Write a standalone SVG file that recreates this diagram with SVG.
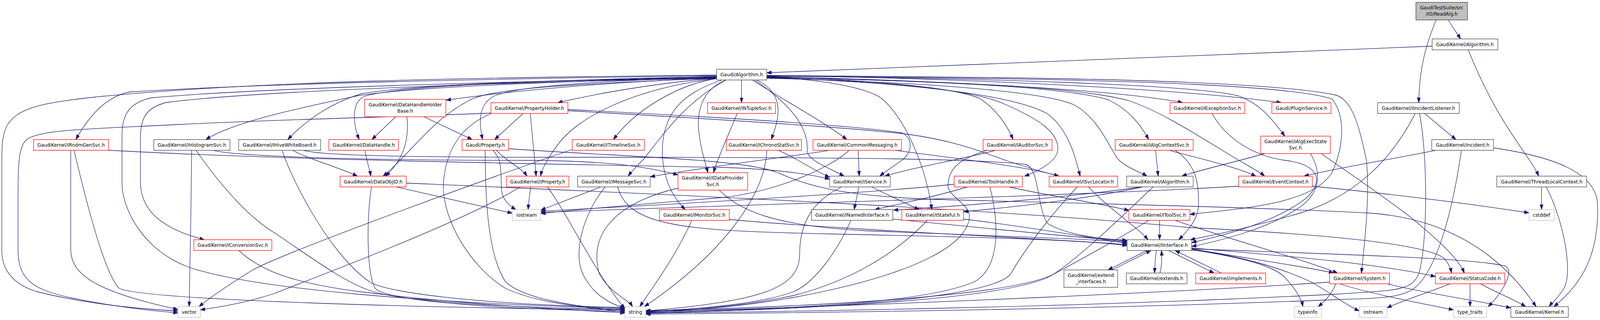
<svg xmlns="http://www.w3.org/2000/svg" width="4432" height="818" viewBox="0 0 4432 818">
<defs>
<marker id="ah" markerUnits="userSpaceOnUse" markerWidth="14" markerHeight="11" refX="13" refY="5" orient="auto"><path d="M0,0.5 L13,5 L0,9.5 z" fill="#191970" stroke="#191970" stroke-width="1"/></marker>
<style>
.e{fill:none;stroke:#191970;stroke-width:1.3;marker-end:url(#ah)}
.n rect{fill:#ffffff;stroke-width:1.3}
.k rect{stroke:#404040}
.r rect{stroke:#ff0000}
.s rect{stroke:#bfbfbf}
.root rect{fill:#bfbfbf;stroke:#404040}
text{font-family:"DejaVu Sans","Liberation Sans",sans-serif;font-size:13px;text-anchor:middle;fill:#000000}
</style>
</defs>
<rect x="0" y="0" width="4432" height="818" fill="#ffffff"/>
<g id="diagram" transform="scale(0.9242,1)">
<g id="connectors">
<path class="e" d="M4012,51 C4022,68 4036,85 4046,99.5"/>
<path class="e" d="M3978,51 C3952,110 3931,170 3930,262.5"/>
<path class="e" d="M3967,118 C3500,134 2600,170 2124,186"/>
<path class="e" d="M4067,127.5 C4150,320 4240,400 4262,450.3"/>
<path class="e" d="M3946,290 L4033,356.7"/>
<path class="e" d="M3920,290 C3860,400 3760,500 3600,545 C3450,585 3350,603 3297,612.8"/>
<path class="e" d="M3932,290 C3955,400 3955,620 3930,700 C3910,745 3860,742 3700,752 C3000,785 2200,797 1789,800"/>
<path class="e" d="M3978,384.2 C3850,408 3700,430 3612,450.3"/>
<path class="e" d="M4137,378 C4300,400 4420,440 4425,520 C4430,640 4390,720 4304,783.8"/>
<path class="e" d="M4048,384.2 C4030,500 3990,680 3920,735 C3880,765 3800,762 3700,766 C3000,792 2200,800 1789,803"/>
<path class="e" d="M4270,477.8 L4270,535.8"/>
<path class="e" d="M4283,477.8 C4330,560 4360,700 4330,740 C4315,762 4298,775 4291,783.8"/>
<path class="e" d="M1985,193 C1500,200 800,210 360,235 C300,245 250,290 210,356.7"/>
<path class="e" d="M1985,196 C1600,208 1150,220 990,245 C850,272 650,310 570,356.7"/>
<path class="e" d="M1985,195 C1550,205 1150,215 1000,240 C920,262 850,305 797,356.7"/>
<path class="e" d="M1985,197 C1500,205 1100,220 1010,246 C975,260 975,310 995,356.7"/>
<path class="e" d="M1985,199 C1700,210 1450,228 1236,256"/>
<path class="e" d="M1985,198 C1700,205 1450,218 1375,243 C1325,262 1325,310 1337,356.7"/>
<path class="e" d="M1985,199 C1800,215 1650,240 1545,262.5"/>
<path class="e" d="M1985,201 C1880,215 1760,280 1699,356.7"/>
<path class="e" d="M2054,204.5 L2054,262.5"/>
<path class="e" d="M2096,204.5 C2175,240 2160,300 2136,356.7"/>
<path class="e" d="M2084,204.5 C2160,250 2280,310 2346,356.7"/>
<path class="e" d="M2124,195 C2400,205 2650,222 2716,253 C2760,280 2790,320 2806,356.7"/>
<path class="e" d="M2124,197 C2600,207 2950,222 3070,255 C3130,282 3160,320 3182,356.7"/>
<path class="e" d="M2124,196 C2600,205 3100,230 3276,262.5"/>
<path class="e" d="M2124,193 C2700,200 3300,230 3549,262.5"/>
<path class="e" d="M2124,194 C2700,200 3300,215 3430,245 C3490,265 3520,300 3559,348"/>
<path class="e" d="M1985,200 C1400,210 700,233 460,262 C405,276 390,300 389,350 L389,470 C392,540 450,585 566,612.8"/>
<path class="e" d="M1985,192 C1300,198 700,208 264,248 C120,262 50,275 20,320 C6,345 5,370 5,420 L5,640 C5,700 50,730 100,745 C250,780 400,790 493,795"/>
<path class="e" d="M1985,199 C1400,208 720,225 420,250 C360,262 340,290 338,340 L338,470 C340,540 400,640 520,682 C700,740 1200,776 1731,788"/>
<path class="e" d="M1985,200 C1600,214 1380,225 1310,252 C1200,300 1140,390 1061,450.3"/>
<path class="e" d="M1985,200 C1750,228 1600,300 1545,370 C1520,400 1502,430 1497,450.3"/>
<path class="e" d="M2011,204.5 C1900,260 1840,340 1782,408 C1762,426 1748,440 1740,450.3"/>
<path class="e" d="M2011,204.5 C1955,225 1930,270 1935,330 C1940,380 1955,420 1961,441.5"/>
<path class="e" d="M2000,204.5 C1880,240 1830,300 1835,400 C1840,470 1870,510 1898,535.8"/>
<path class="e" d="M2090,204.5 C2180,260 2240,320 2236,384 C2234,410 2300,430 2338,450.3"/>
<path class="e" d="M2124,198 C2500,210 2700,232 2780,265 C2880,305 2935,340 2930,385 C2925,415 2870,440 2838,450.3"/>
<path class="e" d="M2124,199 C2500,210 2800,240 2900,290 C2960,330 2978,400 2992,450.3"/>
<path class="e" d="M2124,200 C2600,211 2900,236 2975,268 C3040,300 3070,370 3095,405 C3120,430 3160,440 3177,450.3"/>
<path class="e" d="M2124,197 C2700,210 3000,225 3125,257 C3220,285 3340,360 3432,410 C3460,425 3490,440 3503,450.3"/>
<path class="e" d="M2124,196 C2300,205 2420,228 2450,258 C2520,320 2570,450 2581,535.8"/>
<path class="e" d="M2124,194 C2900,200 3550,210 3690,253 C3730,300 3720,380 3690,440 C3640,520 3450,532 3296,548"/>
<path class="e" d="M2124,193 C2900,197 3500,205 3700,243 C3745,255 3765,320 3785,410 C3795,500 3780,620 3771,698"/>
<path class="e" d="M1096,298.5 L1030,356.7"/>
<path class="e" d="M1174,298.5 L1308,356.7"/>
<path class="e" d="M1127,298.5 C1135,360 1115,410 1068,450.3"/>
<path class="e" d="M1011,384.2 C1015,410 1024,432 1027,450.3"/>
<path class="e" d="M811,384.2 C850,405 945,430 990,450.3"/>
<path class="e" d="M782,384.2 C795,430 900,640 1023,720 C1060,745 1300,778 1731,786"/>
<path class="e" d="M839,384.2 C900,400 1200,402 1600,402 C2300,402 2700,405 2840,420 C2880,430 2870,520 2900,570 C2950,600 3050,612 3122,614"/>
<path class="e" d="M196,384.2 L196,640 C198,700 260,745 493,791"/>
<path class="e" d="M205,384.2 C240,520 290,700 330,737 C400,768 1200,787 1731,792"/>
<path class="e" d="M301,384 C800,410 1600,420 2000,428 C2150,432 2250,446 2298,458"/>
<path class="e" d="M531,384.2 C530,500 526,700 524,783.8"/>
<path class="e" d="M543,384.2 C600,460 680,550 760,595 C850,650 950,720 1023,742 C1100,770 1400,787 1731,790"/>
<path class="e" d="M590,384.2 C650,400 1000,410 1480,410 C1700,412 1800,428 1878,447"/>
<path class="e" d="M1585,382 C1400,440 800,640 700,690 C630,730 580,762 551,783.8"/>
<path class="e" d="M2155,384.2 C2200,400 2250,434 2298,453"/>
<path class="e" d="M2124,384.2 C2120,500 2000,650 1785,783.8"/>
<path class="e" d="M2298,384.2 C2220,397 2000,420 1801,452"/>
<path class="e" d="M2377,384.2 L2380,450.3"/>
<path class="e" d="M2352,384.2 C2300,430 2150,490 2000,505 C1800,520 1600,535 1498,546"/>
<path class="e" d="M2479,384.2 C2600,400 2850,425 2933,450.3"/>
<path class="e" d="M2758,384.2 C2650,410 2520,430 2451,450.3"/>
<path class="e" d="M2735,384.2 C2660,405 2626,430 2626,475 C2626,500 2680,520 2685,548 C2690,620 2550,700 2200,760 C2050,785 1900,795 1789,797"/>
<path class="e" d="M3201,384.2 L3208,450.3"/>
<path class="e" d="M3238,384.2 C3300,400 3420,425 3479,450.3"/>
<path class="e" d="M3255,384.2 C3315,420 3320,470 3320,520 C3320,560 3290,590 3265,612.8"/>
<path class="e" d="M3357,290 C3400,360 3480,400 3560,410 C3650,420 3670,460 3620,505 C3540,565 3400,600 3301,620"/>
<path class="e" d="M3503,392.5 C3420,415 3320,435 3274,450.3"/>
<path class="e" d="M3630,392.5 C3660,440 3660,490 3600,530 C3520,580 3400,612 3301,630"/>
<path class="e" d="M3660,392.5 C3700,420 3800,480 3900,550 C3980,610 4040,660 4056,698"/>
<path class="e" d="M1099,478 C1200,500 1350,530 1419,545"/>
<path class="e" d="M1029,478 C1015,560 1015,700 1040,738 C1080,772 1400,790 1731,796"/>
<path class="e" d="M1125,468 C1800,495 2700,530 3300,582 C3700,600 3950,625 4000,660 C4012,672 4018,686 4021,698"/>
<path class="e" d="M1470,478 C1467,500 1464,518 1463,535.8"/>
<path class="e" d="M1517,478 C1580,560 1650,700 1731,789"/>
<path class="e" d="M1440,478 C1300,560 900,700 760,750 C680,775 600,786 555,792"/>
<path class="e" d="M1375,384.2 C1400,410 1445,430 1460,450.3"/>
<path class="e" d="M1365,384.2 C1395,410 1385,450 1390,490 C1395,515 1415,528 1429,535.8"/>
<path class="e" d="M1344,384.2 C1344,500 1350,650 1400,720 C1450,765 1600,785 1731,794"/>
<path class="e" d="M1409,380 C1700,400 2050,405 2150,440 C2230,470 2300,500 2600,510 C3000,520 3500,530 3800,545 C4000,560 4150,640 4255,783.8"/>
<path class="e" d="M1449,290 L1370,356.7"/>
<path class="e" d="M1469,290 C1475,360 1482,410 1485,450.3"/>
<path class="e" d="M1360,289 C1150,298 800,304 500,318 C250,330 100,330 70,360 C52,380 50,420 50,500 L50,640 C50,720 100,742 200,762 C350,790 450,796 493,800"/>
<path class="e" d="M1362,290 C1280,320 1235,380 1228,470 C1225,560 1300,680 1400,737 C1500,780 1650,787 1731,798"/>
<path class="e" d="M1573,283 C1900,300 2350,325 2513,343 C2650,360 2730,392 2786,410 C2850,430 2900,442 2933,450.3"/>
<path class="e" d="M1573,280 C1900,295 2350,318 2500,340 C2532,356 2525,392 2498,410 C2475,425 2450,440 2437,450.3"/>
<path class="e" d="M1664,478 L1498,537"/>
<path class="e" d="M1676,478 C1620,540 1580,650 1620,710 C1650,760 1700,780 1731,787"/>
<path class="e" d="M1711,478 C1740,580 1900,590 2300,598 C2700,606 3000,612 3122,628"/>
<path class="e" d="M1878,481 C1700,520 1630,600 1660,700 C1690,750 1740,765 1752,783.8"/>
<path class="e" d="M1992,486 C2050,540 2150,578 2400,590 C2800,605 3000,610 3122,619"/>
<path class="e" d="M2042,290 C2020,340 1990,400 1976,441.5"/>
<path class="e" d="M1916,563.3 C1880,640 1820,720 1772,783.8"/>
<path class="e" d="M2020,561 C2300,585 2800,605 3122,625"/>
<path class="e" d="M2379,478 L2366,535.8"/>
<path class="e" d="M2414,478 L2546,535.8"/>
<path class="e" d="M2331,478 C2260,510 2215,560 2215,650 C2215,740 2100,770 1789,795"/>
<path class="e" d="M2679,478 C2600,500 2500,520 2423,535.8"/>
<path class="e" d="M2643,471 C2400,495 1800,525 1498,540"/>
<path class="e" d="M2742,478 C2765,560 2775,680 2700,720 C2550,780 2100,793 1789,796"/>
<path class="e" d="M2796,478 C2900,500 3050,520 3127,538"/>
<path class="e" d="M3015,478 C3080,540 3150,580 3180,612.8"/>
<path class="e" d="M2984,478 C2900,560 2830,650 2800,700 C2750,760 2300,792 1789,799"/>
<path class="e" d="M3159,478 C3000,500 2700,525 2475,537"/>
<path class="e" d="M3165,478 C3000,510 2800,530 2669,541"/>
<path class="e" d="M3194,478 C3100,560 3000,650 2920,700 C2800,760 2200,786 1789,794"/>
<path class="e" d="M3635,476 C3900,500 4100,525 4235,544"/>
<path class="e" d="M3431,476 C3000,500 2000,525 1498,543"/>
<path class="e" d="M3212,563.3 L3212,612.8"/>
<path class="e" d="M3182,563.3 C3100,610 3000,660 2900,710 C2750,770 2200,790 1789,801"/>
<path class="e" d="M3255,563.3 C3400,610 3600,660 3705,698"/>
<path class="e" d="M2473,560 C2700,580 2950,605 3122,616"/>
<path class="e" d="M2357,563.3 C2320,640 2260,720 2200,745 C2100,780 1900,792 1789,795"/>
<path class="e" d="M2669,560 C2850,580 3000,605 3122,622"/>
<path class="e" d="M2569,563.3 C2480,650 2350,720 2200,755 C2050,785 1900,793 1789,798"/>
<path class="e" d="M661,640.3 C720,690 800,722 1000,746 C1300,780 1550,790 1731,800"/>
<path class="e" d="M3177,640.3 L3069,690"/>
<path class="e" d="M3080,690 L3188,640.3"/>
<path class="e" d="M3203,640.3 C3200,660 3199,680 3198,698"/>
<path class="e" d="M3213,698 C3218,680 3219,660 3217,640.3"/>
<path class="e" d="M3237,640.3 L3363,698"/>
<path class="e" d="M3383,698 L3255,640.3"/>
<path class="e" d="M3301,636 C3450,660 3620,682 3694,698"/>
<path class="e" d="M3301,634 C3500,650 3800,670 3976,707"/>
<path class="e" d="M3301,638 C3450,660 3530,680 3560,710 C3590,740 3605,765 3609,783.8"/>
<path class="e" d="M3301,639 C3450,655 3560,690 3630,720 C3680,745 3720,775 3765,795"/>
<path class="e" d="M3301,636 C3700,650 4100,660 4172,681 C4195,695 4160,750 4122,783.8"/>
<path class="e" d="M3845,726 C3950,750 4100,770 4185,787"/>
<path class="e" d="M3683,721 C3400,740 2500,780 1789,797"/>
<path class="e" d="M3700,726 C3690,750 3670,770 3651,783.8"/>
<path class="e" d="M3712,726 C3800,752 3950,778 4026,792"/>
<path class="e" d="M4016,725.7 C3950,750 3880,770 3842,787"/>
<path class="e" d="M4072,725.7 L4072,783.8"/>
<path class="e" d="M4101,725.7 C4150,750 4200,768 4226,783.8"/>
</g>
<g id="n_readalg" class="n root"><rect x="3922" y="6" width="143" height="45"/><text x="3993.5" y="24">GaudiTestSuite/src</text><text x="3993.5" y="40.5">/IO/ReadAlg.h</text></g>
<g id="n_gk_algorithm" class="n k"><rect x="3967" y="99.5" width="182" height="28"/><text x="4058" y="118">GaudiKernel/Algorithm.h</text></g>
<g id="n_g_algorithm" class="n k"><rect x="1985" y="177" width="139" height="27.5"/><text x="2054.5" y="195.5">Gaudi/Algorithm.h</text></g>
<g id="n_dhhb" class="n r"><rect x="1010" y="254" width="225" height="44.5"/><text x="1122.5" y="272">GaudiKernel/DataHandleHolder</text><text x="1122.5" y="288.5">Base.h</text></g>
<g id="n_propertyholder" class="n r"><rect x="1360" y="262.5" width="213" height="27.5"/><text x="1466.5" y="281">GaudiKernel/PropertyHolder.h</text></g>
<g id="n_intuple" class="n r"><rect x="1960" y="262.5" width="188" height="27.5"/><text x="2054" y="281">GaudiKernel/INTupleSvc.h</text></g>
<g id="n_iexception" class="n r"><rect x="3241" y="262.5" width="207" height="27.5"/><text x="3344.5" y="281">GaudiKernel/IExceptionSvc.h</text></g>
<g id="n_pluginservice" class="n r"><rect x="3523" y="262.5" width="164" height="27.5"/><text x="3605" y="281">Gaudi/PluginService.h</text></g>
<g id="n_iincidentlistener" class="n k"><rect x="3816" y="262.5" width="226" height="27.5"/><text x="3929" y="281">GaudiKernel/IIncidentListener.h</text></g>
<g id="n_irndmgen" class="n r"><rect x="93" y="356.7" width="208" height="27.5"/><text x="197" y="375.2">GaudiKernel/IRndmGenSvc.h</text></g>
<g id="n_ihistogram" class="n k"><rect x="426" y="356.7" width="211" height="27.5"/><text x="531.5" y="375.2">GaudiKernel/IHistogramSvc.h</text></g>
<g id="n_ihivewb" class="n k"><rect x="661" y="356.7" width="227" height="27.5"/><text x="774.5" y="375.2">GaudiKernel/IHiveWhiteBoard.h</text></g>
<g id="n_datahandle" class="n r"><rect x="911" y="356.7" width="193" height="27.5"/><text x="1007.5" y="375.2">GaudiKernel/DataHandle.h</text></g>
<g id="n_gproperty" class="n r"><rect x="1280" y="356.7" width="129" height="27.5"/><text x="1344.5" y="375.2">Gaudi/Property.h</text></g>
<g id="n_itimeline" class="n r"><rect x="1585" y="356.7" width="200" height="27.5"/><text x="1685" y="375.2">GaudiKernel/ITimelineSvc.h</text></g>
<g id="n_ichrono" class="n r"><rect x="2012" y="356.7" width="208" height="27.5"/><text x="2116" y="375.2">GaudiKernel/IChronoStatSvc.h</text></g>
<g id="n_commonmsg" class="n r"><rect x="2252" y="356.7" width="245" height="27.5"/><text x="2374.5" y="375.2">GaudiKernel/CommonMessaging.h</text></g>
<g id="n_iauditor" class="n r"><rect x="2723" y="356.7" width="191" height="27.5"/><text x="2818.5" y="375.2">GaudiKernel/IAuditorSvc.h</text></g>
<g id="n_ialgcontext" class="n r"><rect x="3089" y="356.7" width="216" height="27.5"/><text x="3197" y="375.2">GaudiKernel/IAlgContextSvc.h</text></g>
<g id="n_ialgexec" class="n r"><rect x="3492" y="348" width="193" height="44.5"/><text x="3588.5" y="366">GaudiKernel/IAlgExecState</text><text x="3588.5" y="382.5">Svc.h</text></g>
<g id="n_incident" class="n k"><rect x="3966" y="356.7" width="171" height="27.5"/><text x="4051.5" y="375.2">GaudiKernel/Incident.h</text></g>
<g id="n_dataobjid" class="n r"><rect x="942" y="450.3" width="183" height="27.5"/><text x="1033.5" y="468.8">GaudiKernel/DataObjID.h</text></g>
<g id="n_iproperty" class="n r"><rect x="1403" y="450.3" width="173" height="27.5"/><text x="1489.5" y="468.8">GaudiKernel/IProperty.h</text></g>
<g id="n_imessage" class="n k"><rect x="1600" y="450.3" width="201" height="27.5"/><text x="1700.5" y="468.8">GaudiKernel/IMessageSvc.h</text></g>
<g id="n_idataprov" class="n r"><rect x="1878" y="441.5" width="193" height="44.5"/><text x="1974.5" y="459.5">GaudiKernel/IDataProvider</text><text x="1974.5" y="476">Svc.h</text></g>
<g id="n_iservice" class="n k"><rect x="2298" y="450.3" width="168" height="27.5"/><text x="2382" y="468.8">GaudiKernel/IService.h</text></g>
<g id="n_toolhandle" class="n r"><rect x="2643" y="450.3" width="189" height="27.5"/><text x="2737.5" y="468.8">GaudiKernel/ToolHandle.h</text></g>
<g id="n_isvclocator" class="n r"><rect x="2906" y="450.3" width="190" height="27.5"/><text x="3001" y="468.8">GaudiKernel/ISvcLocator.h</text></g>
<g id="n_ialgorithm" class="n k"><rect x="3121" y="450.3" width="184" height="27.5"/><text x="3213" y="468.8">GaudiKernel/IAlgorithm.h</text></g>
<g id="n_eventcontext" class="n r"><rect x="3431" y="450.3" width="204" height="27.5"/><text x="3533" y="468.8">GaudiKernel/EventContext.h</text></g>
<g id="n_threadlocal" class="n k"><rect x="4146" y="450.3" width="249" height="27.5"/><text x="4270.5" y="468.8">GaudiKernel/ThreadLocalContext.h</text></g>
<g id="n_iostream" class="n s"><rect x="1419" y="535.8" width="79" height="27.5"/><text x="1458.5" y="554.3">iostream</text></g>
<g id="n_imonitor" class="n r"><rect x="1827" y="535.8" width="193" height="27.5"/><text x="1923.5" y="554.3">GaudiKernel/IMonitorSvc.h</text></g>
<g id="n_inamed" class="n k"><rect x="2248" y="535.8" width="225" height="27.5"/><text x="2360.5" y="554.3">GaudiKernel/INamedInterface.h</text></g>
<g id="n_istateful" class="n r"><rect x="2498" y="535.8" width="171" height="27.5"/><text x="2583.5" y="554.3">GaudiKernel/IStateful.h</text></g>
<g id="n_itoolsvc" class="n r"><rect x="3127" y="535.8" width="169" height="27.5"/><text x="3211.5" y="554.3">GaudiKernel/IToolSvc.h</text></g>
<g id="n_cstddef" class="n s"><rect x="4235" y="535.8" width="70" height="27.5"/><text x="4270" y="554.3">cstddef</text></g>
<g id="n_iconversion" class="n r"><rect x="537" y="612.8" width="216" height="27.5"/><text x="645" y="631.3">GaudiKernel/IConversionSvc.h</text></g>
<g id="n_iinterface" class="n k"><rect x="3122" y="612.8" width="179" height="27.5"/><text x="3211.5" y="631.3">GaudiKernel/IInterface.h</text></g>
<g id="n_extend_interfaces" class="n k"><rect x="2947" y="690" width="149" height="44.5"/><text x="3021.5" y="708">GaudiKernel/extend</text><text x="3021.5" y="724.5">_interfaces.h</text></g>
<g id="n_extends" class="n k"><rect x="3120" y="698" width="168" height="27.5"/><text x="3204" y="716.5">GaudiKernel/extends.h</text></g>
<g id="n_implements" class="n r"><rect x="3312" y="698" width="194" height="27.5"/><text x="3409" y="716.5">GaudiKernel/implements.h</text></g>
<g id="n_system" class="n r"><rect x="3683" y="698" width="166" height="27.5"/><text x="3766" y="716.5">GaudiKernel/System.h</text></g>
<g id="n_statuscode" class="n r"><rect x="3976" y="698" width="192" height="27.5"/><text x="4072" y="716.5">GaudiKernel/StatusCode.h</text></g>
<g id="n_vector" class="n s"><rect x="493" y="783.8" width="62" height="27.5"/><text x="524" y="802.3">vector</text></g>
<g id="n_string" class="n s"><rect x="1731" y="783.8" width="58" height="27.5"/><text x="1760" y="802.3">string</text></g>
<g id="n_typeinfo" class="n s"><rect x="3585" y="783.8" width="75" height="27.5"/><text x="3622.5" y="802.3">typeinfo</text></g>
<g id="n_ostream" class="n s"><rect x="3765" y="783.8" width="77" height="27.5"/><text x="3803.5" y="802.3">ostream</text></g>
<g id="n_type_traits" class="n s"><rect x="4026" y="783.8" width="92" height="27.5"/><text x="4072" y="802.3">type_traits</text></g>
<g id="n_kernel" class="n k"><rect x="4185" y="783.8" width="159" height="27.5"/><text x="4264.5" y="802.3">GaudiKernel/Kernel.h</text></g>
</g>
</svg>
